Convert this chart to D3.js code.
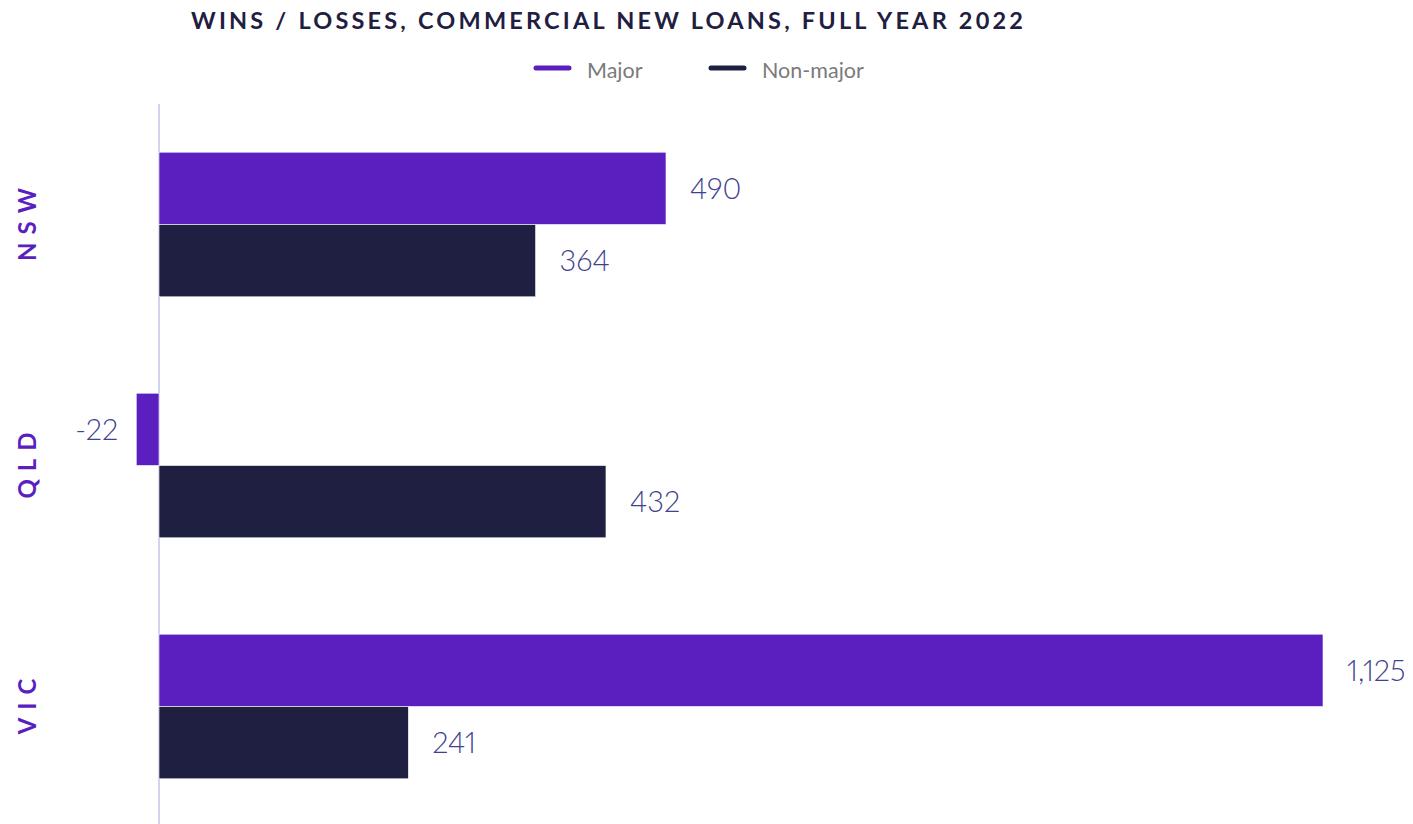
<!DOCTYPE html>
<html>
<head>
<meta charset="utf-8">
<script src="https://cdn.jsdelivr.net/npm/d3@7"></script>
<style>
  html, body { margin: 0; padding: 0; background: #fff; }
  svg { display: block; }
</style>
</head>
<body>
<svg id="chart" width="1413" height="824"></svg>
<script>
// Wins / losses in commercial new loans, full year 2022, by state
const states = ["NSW", "QLD", "VIC"];
const seriesNames = ["Major", "Non-major"];
const majorValues = [490, -22, 1125];
const nonMajorValues = [364, 432, 241];
const seriesColors = ["#5a1fbe", "#1f2041"];

const svg = d3.select("#chart");
const W = 1413, H = 824;

const x = d3.scaleLinear().domain([0, 1125]).range([159, 1323]);
const y = d3.scaleBand().domain(states).range([104, 827]).paddingInner(0.4).paddingOuter(0.2);
const ySub = d3.scaleBand().domain(seriesNames).range([0, y.bandwidth()]);

// Title
svg.append("text")
  .attr("x", 191).attr("y", 29)
  .attr("font-family", "Lato, sans-serif")
  .attr("font-weight", 700)
  .attr("font-size", 23.5)
  .attr("textLength", 832)
  .attr("lengthAdjust", "spacing")
  .attr("fill", "#1f2041")
  .text("WINS / LOSSES, COMMERCIAL NEW LOANS, FULL YEAR 2022");

// Legend
const legend = svg.append("g");
const legendX = [536, 711];
seriesNames.forEach((name, i) => {
  legend.append("line")
    .attr("x1", legendX[i]).attr("x2", legendX[i] + 33)
    .attr("y1", 68).attr("y2", 68)
    .attr("stroke", seriesColors[i])
    .attr("stroke-width", 5)
    .attr("stroke-linecap", "round");
  legend.append("text")
    .attr("x", legendX[i] + 51).attr("y", 78)
    .attr("font-family", "Lato, sans-serif")
    .attr("font-size", 21.5)
    .attr("fill", "#7a7a7a")
    .text(name);
});

// Zero axis line
svg.append("line")
  .attr("x1", x(0)).attr("x2", x(0))
  .attr("y1", 104).attr("y2", H)
  .attr("stroke", "#d3d3ec")
  .attr("stroke-width", 2);

// Bars
const rows = states.map((s, i) => ({ state: s, values: [majorValues[i], nonMajorValues[i]] }));
const groups = svg.selectAll("g.state")
  .data(rows).enter().append("g")
  .attr("class", "state")
  .attr("transform", d => `translate(0,${y(d.state)})`);

const bars = groups.selectAll("g.bar")
  .data(d => d.values.map((v, j) => ({ series: seriesNames[j], value: v, color: seriesColors[j] })))
  .enter().append("g");

bars.append("rect")
  .attr("x", d => Math.min(x(0), x(d.value)))
  .attr("y", d => ySub(d.series))
  .attr("width", d => Math.abs(x(d.value) - x(0)))
  .attr("height", ySub.bandwidth())
  .attr("fill", d => d.color)
  .attr("stroke", "#ffffff")
  .attr("stroke-width", 0.6);

const fmt = v => d3.format(",")(v).replace("\u2212", "-");
bars.append("text")
  .attr("x", d => d.value >= 0 ? x(d.value) + 24 : x(d.value) - 18)
  .attr("y", d => ySub(d.series) + ySub.bandwidth() / 2)
  .attr("dy", "0.36em")
  .attr("text-anchor", d => d.value >= 0 ? "start" : "end")
  .attr("font-family", "Lato, sans-serif")
  .attr("font-weight", 300)
  .attr("font-size", 29)
  .style("font-variant-numeric", "proportional-nums")
  .attr("fill", "#40428f")
  .text(d => fmt(d.value));

// Category labels, rotated (offset compensates the trailing letter-spacing)
const catSpacing = 8;
svg.selectAll("text.cat")
  .data(states).enter().append("text")
  .attr("class", "cat")
  .attr("transform", d => `translate(36,${y(d) + y.bandwidth() / 2 - catSpacing / 2}) rotate(-90)`)
  .attr("text-anchor", "middle")
  .attr("font-family", "Lato, sans-serif")
  .attr("font-weight", 700)
  .attr("font-size", 24)
  .attr("letter-spacing", catSpacing)
  .attr("fill", "#5a1fbe")
  .text(d => d);
</script>
</body>
</html>
